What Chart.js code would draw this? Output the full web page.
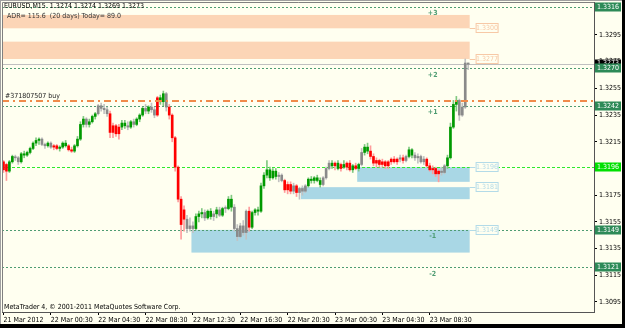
<!DOCTYPE html>
<html>
<head>
<meta charset="utf-8">
<script src="https://cdn.jsdelivr.net/npm/chart.js@4.4.1/dist/chart.umd.min.js"></script>
<style>
html, body { margin: 0; padding: 0; background: #fffff0; }
#c { display: block; }
</style>
</head>
<body>
<canvas id="c" width="625" height="328"></canvas>
<script>
// EURUSD M15, 21 Mar 20:30 .. 23 Mar 11:45
const tickBars = [0, 16, 32, 48, 64, 80, 96, 112, 128, 144];
const tickTexts = ['21 Mar 2012', '22 Mar 00:30', '22 Mar 04:30', '22 Mar 08:30', '22 Mar 12:30',
                   '22 Mar 16:30', '22 Mar 20:30', '23 Mar 00:30', '23 Mar 04:30', '23 Mar 08:30'];
const priceTicks = [1.3095, 1.3115, 1.3135, 1.3155, 1.3175, 1.3195, 1.3215, 1.3235, 1.3255, 1.3275, 1.3295];

const open = [
  1.3200,1.3198,1.3193,1.3200,1.3203,1.3203,1.3200,1.3206,1.3205,1.3207,
  1.3210,1.3214,1.3216,1.3217,1.3213,1.3212,1.3214,1.3211,1.3212,1.3210,
  1.3211,1.3214,1.3212,1.3209,1.3208,1.3212,1.3217,1.3228,1.3232,1.3228,
  1.3230,1.3234,1.3236,1.3242,1.3240,1.3239,1.3236,1.3222,1.3227,1.3221,
  1.3226,1.3229,1.3227,1.3226,1.3230,1.3228,1.3232,1.3235,1.3240,1.3238,
  1.3241,1.3239,1.3235,1.3248,1.3245,1.3251,1.3241,1.3235,1.3218,1.3196,
  1.3172,1.3164,1.3157,1.3150,1.3152,1.3150,1.3159,1.3161,1.3162,1.3158,
  1.3163,1.3159,1.3161,1.3164,1.3160,1.3165,1.3165,1.3172,1.3166,1.3150,
  1.3144,1.3152,1.3147,1.3163,1.3151,1.3162,1.3164,1.3163,1.3182,1.3190,
  1.3194,1.3188,1.3193,1.3189,1.3190,1.3186,1.3179,1.3183,1.3178,1.3182,
  1.3177,1.3180,1.3178,1.3182,1.3187,1.3186,1.3188,1.3186,1.3183,1.3188,
  1.3195,1.3199,1.3197,1.3199,1.3195,1.3198,1.3196,1.3199,1.3194,1.3197,
  1.3195,1.3198,1.3207,1.3211,1.3208,1.3204,1.3199,1.3201,1.3198,1.3200,
  1.3197,1.3200,1.3202,1.3200,1.3202,1.3203,1.3201,1.3204,1.3209,1.3205,
  1.3203,1.3204,1.3200,1.3202,1.3197,1.3194,1.3195,1.3191,1.3193,1.3192,
  1.3197,1.3203,1.3226,1.3243,1.3246,1.3235,1.3241,1.3274
];
const high = [
  1.3201,1.3199,1.3201,1.3205,1.3205,1.3204,1.3207,1.3208,1.3208,1.3211,
  1.3215,1.3218,1.3218,1.3218,1.3214,1.3215,1.3215,1.3213,1.3213,1.3212,
  1.3215,1.3216,1.3213,1.3211,1.3213,1.3219,1.3230,1.3234,1.3233,1.3232,
  1.3235,1.3237,1.3243,1.3244,1.3243,1.3241,1.3238,1.3229,1.3228,1.3228,
  1.3231,1.3231,1.3230,1.3231,1.3232,1.3233,1.3236,1.3241,1.3243,1.3242,
  1.3244,1.3241,1.3249,1.3250,1.3253,1.3252,1.3243,1.3236,1.3219,1.3197,
  1.3174,1.3167,1.3160,1.3158,1.3155,1.3161,1.3163,1.3165,1.3164,1.3164,
  1.3165,1.3163,1.3166,1.3166,1.3166,1.3167,1.3174,1.3175,1.3168,1.3153,
  1.3154,1.3156,1.3164,1.3166,1.3163,1.3165,1.3166,1.3184,1.3192,1.3201,
  1.3196,1.3195,1.3195,1.3192,1.3191,1.3187,1.3185,1.3185,1.3184,1.3183,
  1.3181,1.3182,1.3183,1.3188,1.3189,1.3189,1.3190,1.3188,1.3189,1.3196,
  1.3201,1.3201,1.3200,1.3201,1.3199,1.3201,1.3200,1.3201,1.3198,1.3199,
  1.3199,1.3210,1.3213,1.3214,1.3212,1.3206,1.3203,1.3202,1.3202,1.3201,
  1.3201,1.3203,1.3204,1.3203,1.3205,1.3205,1.3205,1.3211,1.3210,1.3207,
  1.3206,1.3205,1.3204,1.3203,1.3199,1.3197,1.3196,1.3194,1.3196,1.3198,
  1.3205,1.3229,1.3246,1.3249,1.3247,1.3244,1.3277,1.3274
];
const low = [
  1.3192,1.3186,1.3192,1.3199,1.3201,1.3198,1.3199,1.3203,1.3204,1.3206,
  1.3209,1.3212,1.3213,1.3212,1.3210,1.3211,1.3210,1.3209,1.3209,1.3208,
  1.3210,1.3211,1.3208,1.3207,1.3207,1.3211,1.3216,1.3226,1.3226,1.3226,
  1.3229,1.3232,1.3235,1.3238,1.3236,1.3234,1.3218,1.3218,1.3219,1.3217,
  1.3224,1.3225,1.3224,1.3225,1.3226,1.3227,1.3230,1.3234,1.3236,1.3236,
  1.3237,1.3233,1.3234,1.3243,1.3242,1.3238,1.3232,1.3215,1.3193,1.3170,
  1.3142,1.3148,1.3147,1.3148,1.3147,1.3149,1.3155,1.3158,1.3156,1.3157,
  1.3157,1.3156,1.3158,1.3159,1.3159,1.3162,1.3164,1.3163,1.3148,1.3141,
  1.3143,1.3145,1.3142,1.3148,1.3150,1.3160,1.3160,1.3162,1.3180,1.3188,
  1.3186,1.3187,1.3187,1.3185,1.3185,1.3177,1.3176,1.3176,1.3176,1.3174,
  1.3172,1.3175,1.3177,1.3181,1.3184,1.3184,1.3185,1.3181,1.3182,1.3187,
  1.3194,1.3195,1.3194,1.3194,1.3193,1.3195,1.3194,1.3193,1.3192,1.3194,
  1.3193,1.3197,1.3205,1.3206,1.3202,1.3197,1.3196,1.3196,1.3196,1.3195,
  1.3195,1.3198,1.3199,1.3198,1.3200,1.3199,1.3200,1.3203,1.3203,1.3201,
  1.3199,1.3199,1.3198,1.3196,1.3193,1.3191,1.3189,1.3185,1.3190,1.3191,
  1.3195,1.3202,1.3225,1.3238,1.3231,1.3234,1.3240,1.3269
];
const close = [
  1.3194,1.3193,1.3200,1.3204,1.3203,1.3200,1.3206,1.3205,1.3207,1.3210,
  1.3214,1.3216,1.3217,1.3213,1.3212,1.3214,1.3211,1.3212,1.3210,1.3211,
  1.3214,1.3212,1.3209,1.3208,1.3212,1.3217,1.3228,1.3232,1.3228,1.3230,
  1.3234,1.3236,1.3242,1.3240,1.3239,1.3236,1.3222,1.3227,1.3221,1.3226,
  1.3229,1.3227,1.3226,1.3230,1.3228,1.3232,1.3235,1.3240,1.3238,1.3241,
  1.3239,1.3235,1.3248,1.3245,1.3251,1.3241,1.3235,1.3218,1.3196,1.3172,
  1.3153,1.3157,1.3150,1.3152,1.3150,1.3159,1.3161,1.3162,1.3158,1.3163,
  1.3159,1.3161,1.3164,1.3160,1.3165,1.3165,1.3172,1.3166,1.3150,1.3144,
  1.3152,1.3147,1.3163,1.3151,1.3162,1.3164,1.3163,1.3182,1.3190,1.3194,
  1.3188,1.3193,1.3189,1.3190,1.3186,1.3179,1.3183,1.3178,1.3182,1.3177,
  1.3180,1.3178,1.3182,1.3187,1.3186,1.3188,1.3186,1.3183,1.3188,1.3195,
  1.3199,1.3197,1.3199,1.3195,1.3198,1.3196,1.3199,1.3194,1.3197,1.3195,
  1.3198,1.3207,1.3211,1.3208,1.3204,1.3199,1.3201,1.3198,1.3200,1.3197,
  1.3200,1.3202,1.3200,1.3202,1.3203,1.3201,1.3204,1.3209,1.3205,1.3203,
  1.3204,1.3200,1.3202,1.3197,1.3194,1.3195,1.3191,1.3193,1.3192,1.3197,
  1.3203,1.3226,1.3243,1.3246,1.3235,1.3241,1.3274,1.3273
];
// bar colour state from the chart: g = up, r = down, n = neutral (grey)
const barState = ('rrggnngggg' + 'gggnngnrrg' + 'ggrrggggng' + 'ggnnnnrrrr' + 'ggngngggng' +
                  'nnrggnrrrr' + 'rrnnngggng' + 'gngngnggnn' + 'nnnrgggggg' + 'gggnnrrrnr' +
                  'nnngggggnn' + 'ngrgrgrrgr' + 'gnggrrrrrr' + 'rrrrnrnggn' + 'nnnrrrrrnn' +
                  'ggggnnnn').split('');

// objects drawn on the chart
const levelPrices = [1.3316, 1.3270, 1.3242, 1.3149, 1.3121];
const levelNames = ['+3', '+2', '+1', '-1', '-2'];
const pivotPrice = 1.3196;
const bidPrice = 1.3273;
const orderPrice = 1.32455;
const orderText = '#371807507 buy';
const zoneHigh = [1.3310, 1.3290, 1.3196, 1.3181, 1.3149];
const zoneLow = [1.3300, 1.3277, 1.3185, 1.3172, 1.3132];
const zoneStart = [0, 0, 120, 101, 64];
const zoneEnd = 157;
const zoneKind = ['supply', 'supply', 'demand', 'demand', 'demand'];
const zoneTags = ['1.3300', '1.3277', '1.3196', '1.3181', '1.3149'];
const zoneTagPrice = [1.3300, 1.3277, 1.3196, 1.3181, 1.3149];
const titleText = 'EURUSD,M15  1.3274 1.3274 1.3269 1.3273';
const adrText = 'ADR= 115.6  (20 days) Today= 89.0';
const copyText = 'MetaTrader 4, \u00a9 2001-2011 MetaQuotes Software Corp.';

const nBars = 200;
const F = '"Liberation Sans Narrow", "DejaVu Sans Condensed", "Liberation Sans", sans-serif';
const bodyCol = { g: '#009a00', r: '#ff0000', n: '#8a8a8a' };
const wickCol = { g: '#80c880', r: '#ff9c9c', n: '#c2c2c2' };
const levelCol = '#4e9c72';

const labels = Array.from({ length: nBars }, (_, i) => {
  const k = tickBars.indexOf(i);
  return k >= 0 ? tickTexts[k] : '';
});

function tag(c, x, y, w, h, bg, fg, border, text) {
  c.fillStyle = bg;
  c.fillRect(x, y - h / 2, w, h);
  if (border) {
    c.strokeStyle = border;
    c.lineWidth = 1;
    c.strokeRect(x + 0.5, y - h / 2 + 0.5, w - 1, h - 1);
  }
  c.fillStyle = fg;
  c.textAlign = 'center';
  c.textBaseline = 'middle';
  c.fillText(text, x + w / 2, y + 0.5);
}

const mt4 = {
  id: 'mt4',
  beforeDatasetsDraw(chart) {
    const c = chart.ctx, xs = chart.scales.x, ys = chart.scales.y, a = chart.chartArea;
    const half = (xs.getPixelForValue(1) - xs.getPixelForValue(0)) / 2;
    c.save();
    // zones
    zoneHigh.forEach((hi, k) => {
      const x0 = zoneStart[k] === 0 ? a.left : xs.getPixelForValue(zoneStart[k]) - half;
      const x1 = xs.getPixelForValue(zoneEnd) + half;
      const y0 = ys.getPixelForValue(hi), y1 = ys.getPixelForValue(zoneLow[k]);
      c.fillStyle = zoneKind[k] === 'supply' ? '#fcd5b6' : '#a9d7e5';
      c.fillRect(x0, y0, x1 - x0, y1 - y0);
    });
    // dotted levels
    c.lineWidth = 1;
    c.strokeStyle = levelCol;
    c.setLineDash([2, 2]);
    levelPrices.forEach(p => {
      const y = Math.round(ys.getPixelForValue(p)) + 0.5;
      c.beginPath(); c.moveTo(a.left, y); c.lineTo(a.right, y); c.stroke();
    });
    // pivot
    c.strokeStyle = '#2ee82e';
    c.setLineDash([3, 2]);
    let y = Math.round(ys.getPixelForValue(pivotPrice)) + 0.5;
    c.beginPath(); c.moveTo(a.left, y); c.lineTo(a.right, y); c.stroke();
    // bid
    c.setLineDash([]);
    c.strokeStyle = '#c0c0c0';
    y = Math.round(ys.getPixelForValue(bidPrice)) + 0.5;
    c.beginPath(); c.moveTo(a.left, y); c.lineTo(a.right, y); c.stroke();
    c.restore();
  },
  afterDatasetsDraw(chart) {
    const c = chart.ctx, xs = chart.scales.x, ys = chart.scales.y, a = chart.chartArea;
    const half = (xs.getPixelForValue(1) - xs.getPixelForValue(0)) / 2;
    c.save();
    // order line
    c.strokeStyle = '#f08a4a';
    c.lineWidth = 2;
    c.setLineDash([7, 4, 2, 4]);
    const oy = Math.round(ys.getPixelForValue(orderPrice));
    c.beginPath(); c.moveTo(a.left, oy); c.lineTo(a.right, oy); c.stroke();
    c.setLineDash([]);
    c.font = '7px ' + F;
    c.fillStyle = '#222';
    c.textAlign = 'left';
    c.textBaseline = 'bottom';
    c.fillText(orderText, a.left + 3, oy - 1);
    // level names
    c.fillStyle = levelCol;
    c.textAlign = 'center';
    c.textBaseline = 'top';
    c.font = 'bold 7px ' + F;
    levelPrices.forEach((p, k) => {
      c.fillText(levelNames[k], xs.getPixelForValue(145), ys.getPixelForValue(p) + 3);
    });
    // zone price tags
    c.font = '7px ' + F;
    const xe = xs.getPixelForValue(zoneEnd) + half;
    const xt = xs.getPixelForValue(160) - half;
    zoneTags.forEach((t, k) => {
      const ty = Math.round(ys.getPixelForValue(zoneTagPrice[k]));
      const col = zoneKind[k] === 'supply' ? '#f7c9a6' : '#b3dbe8';
      c.strokeStyle = col;
      c.lineWidth = 1;
      c.beginPath(); c.moveTo(xe, ty + 0.5); c.lineTo(xt, ty + 0.5); c.stroke();
      tag(c, xt, ty, 23, 10, '#fffff0', col, col, t);
    });
    c.restore();
  },
  afterDraw(chart) {
    const c = chart.ctx, ys = chart.scales.y, a = chart.chartArea;
    const W = chart.width, H = chart.height;
    c.save();
    c.font = '7px ' + F;
    // right axis price tags (bid first, level tags over it)
    tag(c, a.right + 1, Math.round(ys.getPixelForValue(bidPrice)) - 1, 26, 7, '#000', '#fff', null, bidPrice.toFixed(4));
    levelPrices.forEach(p => {
      tag(c, a.right + 1, Math.round(ys.getPixelForValue(p)), 26, 9, '#2d8a57', '#fff', null, p.toFixed(4));
    });
    tag(c, a.right + 1, Math.round(ys.getPixelForValue(pivotPrice)), 26, 9, '#00e000', '#fff', null, pivotPrice.toFixed(4));
    // texts
    c.fillStyle = '#000';
    c.textAlign = 'left';
    c.textBaseline = 'top';
    c.fillText(titleText, a.left + 2, a.top + 1);
    c.fillStyle = '#333';
    c.fillText(adrText, a.left + 5, a.top + 11);
    c.fillStyle = '#000';
    c.textBaseline = 'bottom';
    c.fillText(copyText, a.left + 2, a.bottom - 1);
    // frames
    c.strokeStyle = '#808080';
    c.lineWidth = 1;
    c.beginPath();
    c.moveTo(a.left + 0.5, a.bottom); c.lineTo(a.left + 0.5, a.top + 0.5); c.lineTo(a.right, a.top + 0.5);
    c.stroke();
    c.fillStyle = '#a0a0a0';
    c.fillRect(0, 0, W, 1);
    c.fillRect(0, 0, 1, H);
    c.fillStyle = '#000';
    c.fillRect(W - 3, 0, 3, H);
    c.fillRect(0, H - 4, W, 4);
    c.restore();
  }
};

Chart.defaults.font.family = F;
Chart.defaults.font.size = 7;
Chart.defaults.color = '#000';

new Chart(document.getElementById('c'), {
  type: 'bar',
  data: {
    labels: labels,
    datasets: [
      {
        label: 'body',
        data: open.map((o, i) => [o, close[i]]),
        backgroundColor: barState.map(s => bodyCol[s]),
        barThickness: 2,
        minBarLength: 1,
        grouped: false,
        order: 0
      },
      {
        label: 'wick',
        data: low.map((l, i) => [l, high[i]]),
        backgroundColor: barState.map(s => wickCol[s]),
        barThickness: 1,
        grouped: false,
        order: 1
      }
    ]
  },
  options: {
    responsive: false,
    animation: false,
    devicePixelRatio: 1,
    layout: { padding: { left: 2, top: 2, right: 3, bottom: 4 } },
    plugins: { legend: { display: false }, tooltip: { enabled: false } },
    scales: {
      x: {
        type: 'category',
        offset: true,
        afterFit: s => { s.height = 12; s.paddingLeft = 0; s.paddingRight = 0; },
        ticks: { autoSkip: false, maxRotation: 0, minRotation: 0, align: 'start', padding: 1, color: '#000' },
        grid: {
          drawOnChartArea: false, offset: false, tickLength: 3,
          color: ctx => (ctx.tick && ctx.tick.label) ? '#000' : 'rgba(0,0,0,0)'
        },
        border: { color: '#555' }
      },
      y: {
        position: 'right',
        min: 1.30875,
        max: 1.33197,
        afterBuildTicks: s => { s.ticks = priceTicks.map(v => ({ value: v })); },
        afterFit: s => { s.width = 28; s.paddingTop = 0; s.paddingBottom = 0; },
        ticks: { callback: v => v.toFixed(4), padding: 2, color: '#000' },
        grid: { drawOnChartArea: false, tickLength: 3, color: '#000' },
        border: { color: '#555' }
      }
    }
  },
  plugins: [mt4]
});
</script>
</body>
</html>
